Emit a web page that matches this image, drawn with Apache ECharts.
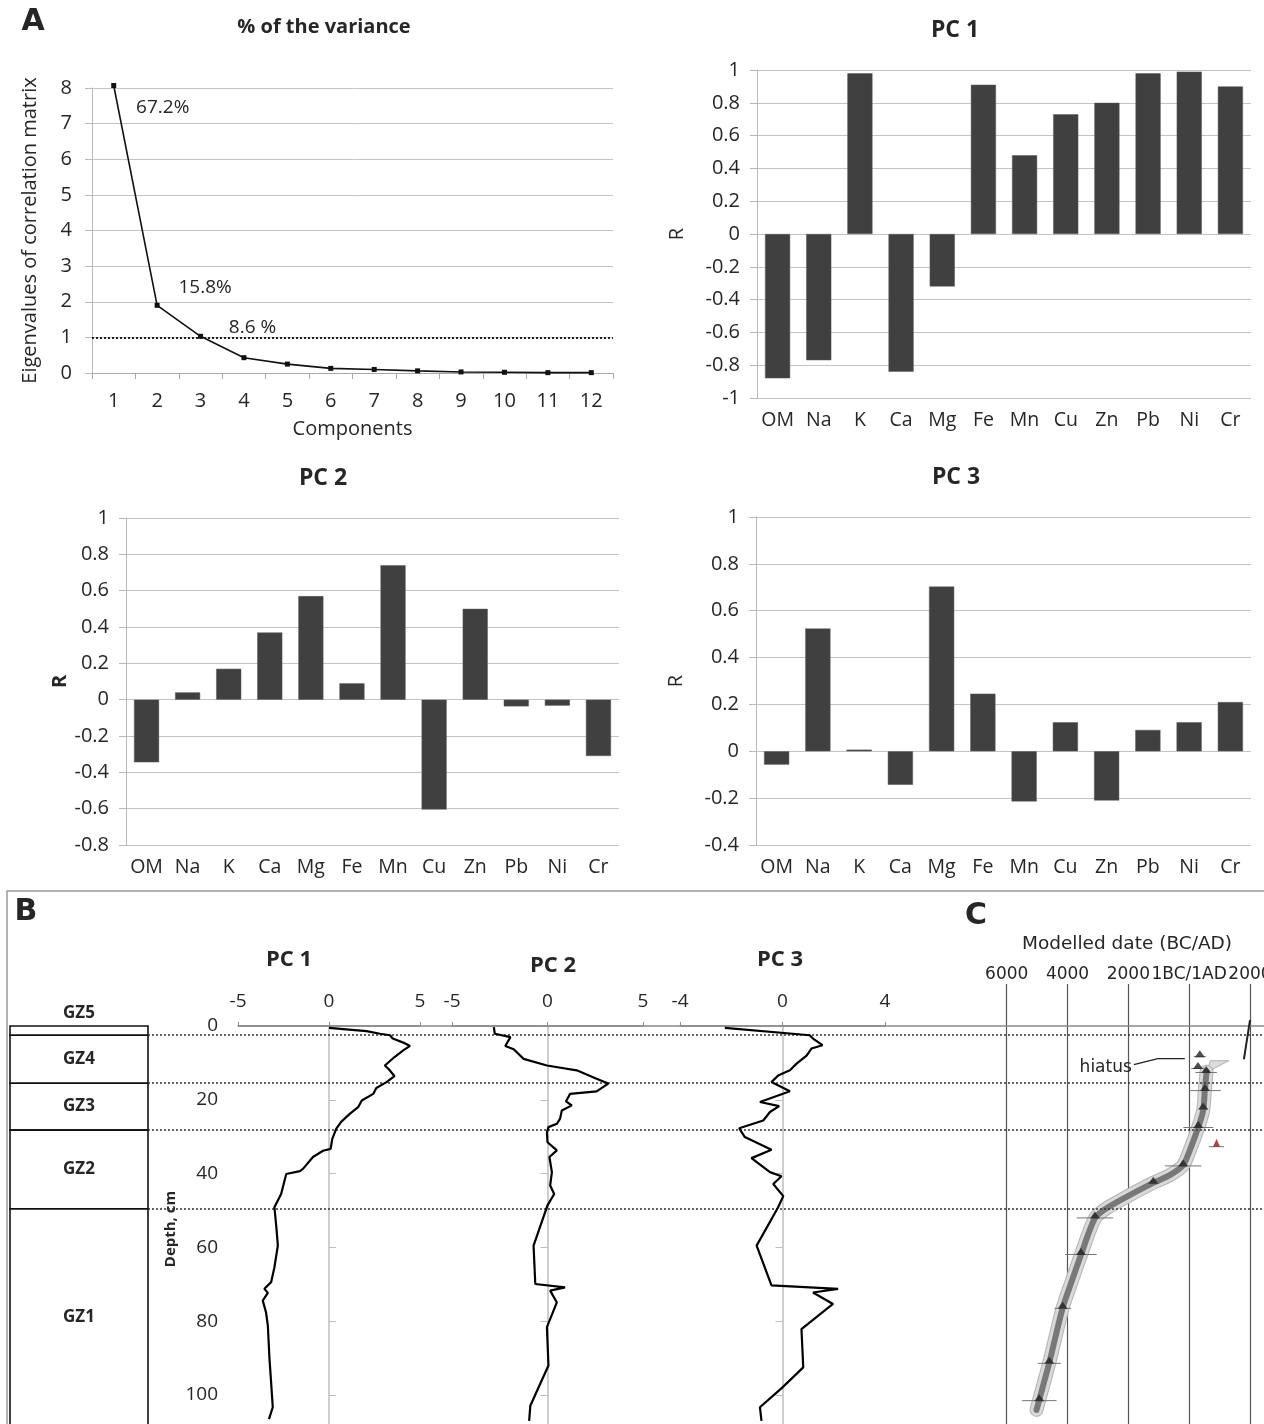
<!DOCTYPE html>
<html><head><meta charset="utf-8">
<script src="https://cdn.jsdelivr.net/npm/echarts@6/dist/echarts.min.js"></script>
<style>html,body{margin:0;padding:0;background:#fff}#c{width:1264px;height:1424px}</style>
</head><body><div id="c"></div>
<script>
// ---------- DATA ----------
const components = ['1','2','3','4','5','6','7','8','9','10','11','12'];
const eigenvalues = [8.07, 1.9, 1.03, 0.43, 0.25, 0.13, 0.1, 0.06, 0.03, 0.02, 0.01, 0.01];
const varianceLabels = ['67.2%', '15.8%', '8.6 %'];

const elements = ['OM','Na','K','Ca','Mg','Fe','Mn','Cu','Zn','Pb','Ni','Cr'];
const pc1Loadings = [-0.88, -0.77, 0.98, -0.84, -0.32, 0.91, 0.48, 0.73, 0.80, 0.98, 0.99, 0.90];
const pc2Loadings = [-0.345, 0.04, 0.17, 0.37, 0.57, 0.09, 0.74, -0.605, 0.50, -0.037, -0.033, -0.31];
const pc3Loadings = [-0.057, 0.524, 0.007, -0.143, 0.703, 0.246, -0.214, 0.124, -0.21, 0.091, 0.124, 0.21];

const pc1Depth = [0.5,1.4,2.1,2.5,3.4,4.5,5.4,6.6,8.4,10.7,11.8,13.6,15.2,16.8,18.4,20.2,22.0,23.8,25.9,27.8,30.6,33.3,33.8,35.5,38.7,39.3,40.1,40.5,45.5,49.1,54.1,59.5,65.4,69.4,71.2,72.3,74.4,77.6,81.2,90.2,96.6,103.3,106.5];
const pc1Score = [0,2.06,2.8,3.35,3.5,4.08,4.45,4.08,3.6,3.07,3.3,3.6,3.16,2.6,2.43,1.8,1.6,1.14,0.68,0.4,0.18,0.09,-0.33,-0.88,-1.43,-1.6,-2.35,-2.44,-2.63,-3.0,-2.9,-2.81,-3.0,-3.18,-3.55,-3.36,-3.64,-3.46,-3.36,-3.27,-3.18,-3.09,-3.3];

const pc2Depth = [0.3,2.1,3.0,5.4,6.3,8.9,10.7,12.0,14.3,15.6,17.7,18.4,20.4,21.5,22.9,25.1,26.5,27.4,28.8,31.5,33.7,35.5,39.6,43.2,45.5,48.6,59.5,69.9,70.8,71.7,74.9,81.6,92.0,102.9,107];
const pc2Score = [-2.81,-2.76,-1.94,-2.21,-1.77,-1.25,-0.03,1.53,2.57,3.18,2.57,1.18,0.97,1.27,0.75,0.66,0.49,0.05,-0.03,0,0.49,0.1,0.23,0.14,0.35,0,-0.73,-0.64,0.92,0.14,0.49,-0.03,0.05,-0.9,-0.96];

const pc3Depth = [0.5,2.5,3.4,5.2,6.1,8.0,10.2,12.0,13.4,15.2,17.7,20.6,21.7,23.3,25.6,27.7,30.1,33.5,35.8,39.6,40.7,42.8,46.1,49.1,59.5,70.3,71.2,72.2,75.3,82.1,92.5,97.9,103.3,107];
const pc3Score = [-2.25,1.06,1.19,1.56,1.13,0.94,0.55,0.29,-0.17,-0.43,0.29,-0.88,-0.13,-0.49,-0.75,-1.69,-1.47,-0.43,-1.21,-0.49,-0.04,-0.36,0.03,-0.17,-1.01,-0.43,2.17,1.19,1.97,0.74,0.81,0,-0.88,-0.82];

const zoneNames = ['GZ5','GZ4','GZ3','GZ2','GZ1'];
const zoneTop = [0, 2.5, 15.5, 28.2, 49.5];
const zoneBottom = [2.5, 15.5, 28.2, 49.5, 108.5];
const depthTicks = [0, 20, 40, 60, 80, 100];

// age-depth model (date: negative = BC)
const modelDepth = [12.4,17.3,22.8,27.5,33.6,37.7,40.4,42.5,46.3,49.4,52.1,62.1,69.3,76.5,91.4,101.4,104];
const modelDate = [572,516,461,296,23,-197,-635,-1184,-2059,-2717,-3102,-3562,-3868,-4164,-4605,-4934,-5020];
const wedgeDepth = [12.6, 9.4, 9.4];
const wedgeDate = [560, 700, 1300];
const datedDepth = [8.3, 11.5, 12.6, 17.5, 22.5, 27.5, 37.9, 42.6, 52.0, 61.9, 76.5, 91.4, 101.5];
const datedDate = [350, 290, 560, 520, 460, 300, -200, -1180, -3100, -3560, -4160, -4600, -4930];
const datedErr = [200, 220, 350, 520, 150, 490, 600, 200, 600, 520, 270, 380, 570];
const outlierDepth = [32.7];
const outlierDate = [900];
const outlierErr = [250];
const modernDepth = [-1.6, 9.0];
const modernDate = [2000, 1800];
const hiatusText = 'hiatus';

// ---------- STYLE ----------
const FA = '"Open Sans", Lato, sans-serif';
const FB = '"DejaVu Sans", Verdana, sans-serif';
const TXT = '#262626';
const GRIDC = '#c4c4c4';
const DEPTH_MAX = 110;

const fmt1 = v => String(Math.round(v * 10) / 10);

const grids = [
  {left:92, top:88, width:521, height:285},      // 0 scree
  {left:757, top:70, width:494, height:328},     // 1 PC1 bars
  {left:126, top:518, width:493, height:327},    // 2 PC2 bars
  {left:756, top:517, width:495, height:328},    // 3 PC3 bars
  {left:238, top:1026, width:182, height:406},   // 4 PC1 profile
  {left:452, top:1026, width:191, height:406},   // 5 PC2 profile
  {left:680, top:1026, width:205, height:406},   // 6 PC3 profile
  {left:1006.7, top:984, width:243.3, height:448}, // 7 age model
  {left:10, top:1026, width:138, height:406},    // 8 zones
  {left:148, top:1026, width:1116, height:406},  // 9 dotted boundaries
  {left:238, top:1026, width:1026, height:406}   // 10 top frame line
].map(g => Object.assign({outerBoundsMode:'none', containLabel:false}, g));

function barX(gi) {
  return {type:'category', gridIndex:gi, data:elements, boundaryGap:true,
    axisLine:{show:false, onZero:false}, axisTick:{show:false},
    axisLabel:{fontFamily:FA, fontSize:19.5, color:TXT, margin:12, interval:0, hideOverlap:false}};
}
function barY(gi, min, gap) {
  return {type:'value', gridIndex:gi, min:min, max:1, interval:0.2,
    name:'R', nameLocation:'middle', nameGap:gap,
    nameTextStyle:{fontFamily:FA, fontSize:20, color:TXT, fontWeight: gi===2 ? 'bold' : 'normal'},
    axisLine:{show:true, onZero:false, lineStyle:{color:'#b8b8b8'}},
    axisTick:{show:true, length:7, lineStyle:{color:'#b8b8b8'}},
    axisLabel:{fontFamily:FA, fontSize:20, color:TXT, margin:17, formatter:fmt1},
    splitLine:{show:true, lineStyle:{color:GRIDC}}};
}
function profX(gi, lim, step) {
  return {type:'value', gridIndex:gi, position:'top', min:-lim, max:lim, interval:step,
    axisLine:{show:true, onZero:false, lineStyle:{color:'#8a8a8a', width:1.5}},
    axisTick:{show:true, length:4, lineStyle:{color:'#8a8a8a'}},
    axisLabel:{fontFamily:FA, fontSize:19, color:TXT, margin:15, hideOverlap:false},
    splitLine:{show:false}};
}
function zeroY(gi) {
  return {type:'value', gridIndex:gi, inverse:true, min:0, max:DEPTH_MAX, interval:20,
    axisLine:{show:true, onZero:true, lineStyle:{color:'#bdbdbd', width:1.5}},
    axisTick:{show:true, length:7, lineStyle:{color:'#bdbdbd'}},
    axisLabel:{show:false}, splitLine:{show:false}};
}
function hiddenX(gi) { return {type:'value', gridIndex:gi, min:0, max:1, show:false}; }
function hiddenY(gi, min) { return {type:'value', gridIndex:gi, inverse:true, min:min, max:DEPTH_MAX, show:false}; }

const xAxes = [
  {type:'category', gridIndex:0, data:components, boundaryGap:true,
    name:'Components', nameLocation:'middle', nameGap:46,
    nameTextStyle:{fontFamily:FA, fontSize:20, color:TXT},
    axisLine:{show:true, onZero:false, lineStyle:{color:'#a8a8a8'}},
    axisTick:{show:true, length:6, lineStyle:{color:'#a8a8a8'}},
    axisLabel:{fontFamily:FA, fontSize:20, color:TXT, margin:18, interval:0}},
  barX(1), barX(2), barX(3),
  profX(4, 5, 5), profX(5, 5, 5), profX(6, 4, 4),
  {type:'value', gridIndex:7, position:'top', min:-6000, max:2000, interval:2000,
    axisLine:{show:false, onZero:false}, axisTick:{show:false},
    axisLabel:{fontFamily:FB, fontSize:17, color:TXT, margin:1, hideOverlap:false,
      showMinLabel:true, showMaxLabel:true,
      formatter: v => v < 0 ? String(-v) : (v === 0 ? '1BC/1AD' : String(v))},
    splitLine:{show:true, lineStyle:{color:'#555', width:1.2}}},
  hiddenX(8), hiddenX(9), hiddenX(10)
];

const yAxes = [
  {type:'value', gridIndex:0, min:0, max:8, interval:1,
    name:'Eigenvalues of correlation matrix', nameLocation:'middle', nameGap:52,
    nameTextStyle:{fontFamily:FA, fontSize:20, color:TXT},
    axisLine:{show:true, onZero:false, lineStyle:{color:'#b8b8b8'}},
    axisTick:{show:true, length:7, lineStyle:{color:'#b8b8b8'}},
    axisLabel:{fontFamily:FA, fontSize:20, color:TXT, margin:20},
    splitLine:{show:true, lineStyle:{color:GRIDC}}},
  barY(1, -1, 70), barY(2, -0.8, 44), barY(3, -0.4, 70),
  // 4: PC1 profile depth labels
  {type:'value', gridIndex:4, inverse:true, min:0, max:DEPTH_MAX, interval:20,
    name:'Depth, cm', nameLocation:'middle', nameGap:60,
    nameTextStyle:{fontFamily:FA, fontSize:15, fontWeight:'bold', color:TXT},
    axisLine:{show:false, onZero:false}, axisTick:{show:false},
    axisLabel:{fontFamily:FA, fontSize:19, color:TXT, margin:20, showMaxLabel:false,
      formatter: v => depthTicks.indexOf(v) >= 0 ? String(v) : ''},
    splitLine:{show:false}},
  zeroY(4), zeroY(5), zeroY(6),                 // 5,6,7
  hiddenY(7, -(1026 - 984) / 3.69),             // 8 age model
  hiddenY(8, 0), hiddenY(9, 0), hiddenY(10, 0)  // 9,10,11
];
const AX = {C:[7, 8], ZONES:[8, 9], DOTS:[9, 10], FRAME:[10, 11]};

const series = [];

// scree plot
const screeOffsets = [[49, 22], [48, -18], [52, -9]];
series.push({
  type:'line', xAxisIndex:0, yAxisIndex:0, clip:false,
  data: eigenvalues.map((v, i) => i < varianceLabels.length ? {
      value: v,
      label:{show:true, position:'inside', offset:screeOffsets[i], formatter: varianceLabels[i],
        fontFamily:FA, fontSize:19, color:TXT}
    } : v),
  symbol:'rect', symbolSize:5, itemStyle:{color:'#111'},
  lineStyle:{color:'#111', width:1.6},
  markLine:{silent:true, symbol:'none', label:{show:false},
    lineStyle:{color:'#222', type:[2, 2], width:2}, data:[{yAxis:1}]},
  z:5
});

// bar charts
[pc1Loadings, pc2Loadings, pc3Loadings].forEach((arr, k) => {
  series.push({type:'bar', xAxisIndex:k + 1, yAxisIndex:k + 1, data:arr, barWidth:'61%',
    itemStyle:{color:'#404040', borderColor:'#5a5a5a', borderWidth:0.5}, z:3});
});

// profiles
const profs = [[pc1Score, pc1Depth, 4, 4], [pc2Score, pc2Depth, 5, 6], [pc3Score, pc3Depth, 6, 7]];
profs.forEach(p => {
  series.push({type:'line', xAxisIndex:p[2], yAxisIndex:p[3],
    data: p[0].map((v, i) => [v, p[1][i]]),
    showSymbol:false, symbol:'none', lineStyle:{color:'#000', width:2.2}, z:6});
});

// zones boxes
series.push({
  type:'custom', xAxisIndex:AX.ZONES[0], yAxisIndex:AX.ZONES[1], z:4,
  data: zoneNames.map((n, i) => [0, zoneTop[i], zoneBottom[i]]),
  renderItem: (params, api) => {
    const a = api.coord([0, api.value(1)]);
    const b = api.coord([1, api.value(2)]);
    const h = b[1] - a[1];
    const cx = (a[0] + b[0]) / 2;
    const ty = h < 20 ? a[1] - 13 : (a[1] + b[1]) / 2;
    return {type:'group', children:[
      {type:'rect', shape:{x:a[0], y:a[1], width:b[0] - a[0], height:h},
        style:{fill:'none', stroke:'#111', lineWidth:1.6}},
      {type:'text', style:{text:zoneNames[params.dataIndex], x:cx, y:ty,
        align:'center', verticalAlign:'middle',
        font:'bold 17px ' + FA, fill:TXT}}
    ]};
  }
});

// dotted zone boundaries
series.push({type:'line', xAxisIndex:AX.DOTS[0], yAxisIndex:AX.DOTS[1], data:[], z:2,
  markLine:{silent:true, symbol:'none', label:{show:false},
    lineStyle:{color:'#333', type:[2, 2], width:1.5},
    data: zoneTop.slice(1).map(d => ({yAxis:d}))}});

// top frame line at depth 0
series.push({type:'line', xAxisIndex:AX.FRAME[0], yAxisIndex:AX.FRAME[1], data:[], z:2,
  markLine:{silent:true, symbol:'none', label:{show:false},
    lineStyle:{color:'#8a8a8a', type:'solid', width:1.5},
    data:[{yAxis:0}]}});

// age-depth model band
const modelPts = modelDate.map((d, i) => [d, modelDepth[i]]);
series.push({type:'custom', xAxisIndex:AX.C[0], yAxisIndex:AX.C[1], z:3,
  data:[[0, 0]],
  renderItem: (params, api) => ({type:'polygon',
    shape:{points: wedgeDate.map((d, i) => api.coord([d, wedgeDepth[i]]))},
    style:{fill:'#dcdcdc', stroke:'#b0b0b0', lineWidth:1}})
});
[[14, '#b3b3b3'], [12, '#d9d9d9'], [6, '#787878']].forEach(s => {
  series.push({type:'line', xAxisIndex:AX.C[0], yAxisIndex:AX.C[1], data:modelPts, showSymbol:false, symbol:'none',
    smooth:0.25, lineStyle:{color:s[1], width:s[0], cap:'round', join:'round'}, z:3});
});
// error bars
function errSeries(dates, depths, errs, color) {
  return {type:'custom', xAxisIndex:AX.C[0], yAxisIndex:AX.C[1], z:4,
    data: dates.map((d, i) => [d, depths[i], errs[i]]),
    renderItem: (params, api) => {
      const a = api.coord([api.value(0) - api.value(2), api.value(1)]);
      const b = api.coord([api.value(0) + api.value(2), api.value(1)]);
      return {type:'line', shape:{x1:a[0], y1:a[1], x2:b[0], y2:b[1]},
        style:{stroke:color, lineWidth:1}};
    }};
}
series.push(errSeries(datedDate, datedDepth, datedErr, '#777'));
series.push(errSeries(outlierDate, outlierDepth, outlierErr, '#777'));
series.push({type:'scatter', xAxisIndex:AX.C[0], yAxisIndex:AX.C[1], z:5,
  data: datedDate.map((d, i) => [d, datedDepth[i]]),
  symbol:'triangle', symbolSize:[10, 7], symbolOffset:[0, -3], itemStyle:{color:'#222'}});
series.push({type:'scatter', xAxisIndex:AX.C[0], yAxisIndex:AX.C[1], z:5,
  data: outlierDate.map((d, i) => [d, outlierDepth[i]]),
  symbol:'triangle', symbolSize:[7, 8], symbolOffset:[0, -4], itemStyle:{color:'#8b1a1a'}});
series.push({type:'line', xAxisIndex:AX.C[0], yAxisIndex:AX.C[1], z:5,
  data: modernDate.map((d, i) => [d, modernDepth[i]]),
  showSymbol:false, symbol:'none', lineStyle:{color:'#222', width:2}});
// hiatus annotation (leader from label to the hiatus dates)
series.push({type:'custom', xAxisIndex:AX.C[0], yAxisIndex:AX.C[1], z:6,
  data:[[datedDate[0], datedDepth[0]]],
  renderItem: (params, api) => {
    const p = api.coord([api.value(0), api.value(1)]);
    const x0 = p[0] - 66, y0 = p[1] + 8;
    return {type:'group', children:[
      {type:'polyline', shape:{points:[[x0, y0], [x0 + 24, y0 - 6], [p[0] - 15, y0 - 6]]},
        style:{stroke:'#222', lineWidth:1.2, fill:'none'}},
      {type:'text', style:{text:hiatusText, x:x0 - 2, y:y0 + 3, align:'right', verticalAlign:'middle',
        font:'17px ' + FB, fill:TXT}}
    ]};
  }
});

function txt(t, x, y, font) {
  return {type:'text', x:x, y:y, style:{text:t, font:font, fill:TXT,
    align:'center', verticalAlign:'middle'}, z:10};
}

const option = {
  animation:false,
  backgroundColor:'#fff',
  grid: grids,
  xAxis: xAxes,
  yAxis: yAxes,
  series: series,
  graphic: [
    {type:'rect', shape:{x:7, y:891, width:1275, height:600},
      style:{fill:'none', stroke:'#9a9a9a', lineWidth:1.5}, z:1},
    txt('A', 33, 22, 'bold 30px ' + FB),
    txt('% of the variance', 324, 27, 'bold 20px ' + FA),
    txt('PC 1', 955, 30, 'bold 23px ' + FA),
    txt('PC 2', 323, 478, 'bold 23px ' + FA),
    txt('PC 3', 956, 477, 'bold 23px ' + FA),
    txt('B', 26, 912, 'bold 30px ' + FB),
    txt('C', 976, 916, 'bold 30px ' + FB),
    txt('PC 1', 289, 960, 'bold 22px ' + FA),
    txt('PC 2', 553, 966, 'bold 22px ' + FA),
    txt('PC 3', 780, 960, 'bold 22px ' + FA),
    txt('Modelled date (BC/AD)', 1127, 944, '18.5px ' + FB)
  ]
};

const chart = echarts.init(document.getElementById('c'), null, {renderer:'canvas', width:1264, height:1424});
chart.setOption(option);
</script>
</body></html>
